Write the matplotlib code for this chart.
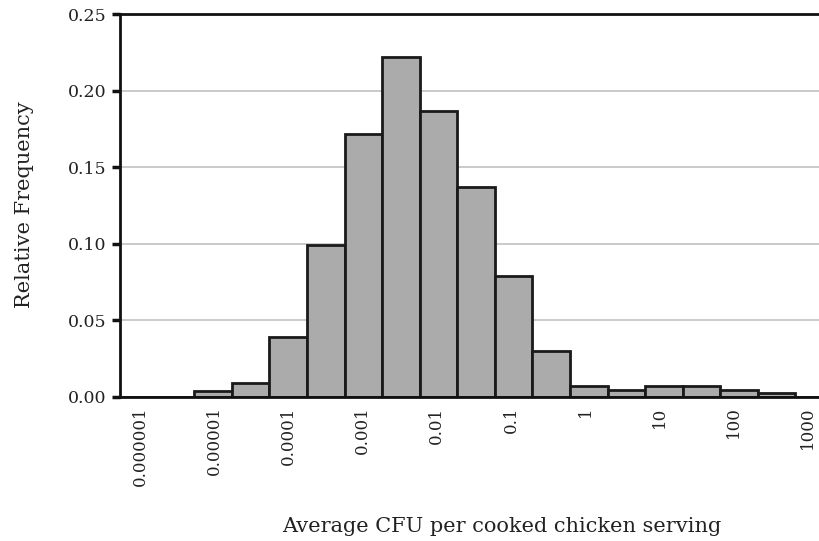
import matplotlib
matplotlib.use("Agg")
import matplotlib.pyplot as plt
import numpy as np

# Half-decade bins of log10(CFU per serving)
bin_exponents = [-6, -5.5, -5, -4.5, -4, -3.5, -3, -2.5, -2, -1.5,
                 -1, -0.5, 0, 0.5, 1, 1.5, 2, 2.5, 3]
rel_freq = [0.0, 0.0, 0.0035, 0.0088, 0.039, 0.099, 0.172, 0.222, 0.187, 0.137,
            0.079, 0.030, 0.0068, 0.0047, 0.0068, 0.0068, 0.0042, 0.0027, 0.0]
tick_labels = ["0.000001", "0.00001", "0.0001", "0.001", "0.01", "0.1",
               "1", "10", "100", "1000"]
y_ticks = [0.00, 0.05, 0.10, 0.15, 0.20, 0.25]

plt.rcParams["font.family"] = ["DejaVu Serif"]
text_color = "#222222"

W, H = 819, 541
fig = plt.figure(figsize=(W / 100, H / 100), dpi=100)
ax = fig.add_axes([120 / W, 1 - 396.7 / H, 699 / W, (396.7 - 14.3) / H])

pos = np.arange(len(bin_exponents))
ax.bar(pos, rel_freq, width=1.0, color="#ababab", edgecolor="#1a1a1a",
       linewidth=2.0, zorder=3)

ax.set_ylim(0, 0.25)
ax.set_xlim(-0.48, 18.13)

ax.set_yticks(y_ticks)
ax.set_yticklabels([f"{v:.2f}" for v in y_ticks], fontsize=12.5, color=text_color)
ax.tick_params(axis="y", direction="out", length=6, width=2.5, pad=3.5, color="#111111")

# decade labels, spaced a touch tighter so "1000" stays inside the figure
major_pos = np.array([i for i, e in enumerate(bin_exponents) if float(e).is_integer()])
ax.set_xticks(0.05 + major_pos * 0.988)
ax.set_xticklabels(tick_labels, rotation=90, fontsize=12, color=text_color)
ax.tick_params(axis="x", length=0, pad=7)

ax.yaxis.grid(True, color="#c6c6c6", linewidth=1.3, zorder=0)
ax.set_axisbelow(True)

for side in ("left", "top", "bottom"):
    ax.spines[side].set_linewidth(2.0)
    ax.spines[side].set_color("#111111")
ax.spines["right"].set_visible(False)
ax.spines["bottom"].set_zorder(4)

fig.text(25 / W, 1 - 205 / H, "Relative Frequency", rotation=90,
         ha="center", va="center", fontsize=15, color=text_color)
fig.text(502 / W, 1 - 527 / H, "Average CFU per cooked chicken serving",
         ha="center", va="center", fontsize=15, color=text_color)

fig.savefig("out.png", dpi=100)
